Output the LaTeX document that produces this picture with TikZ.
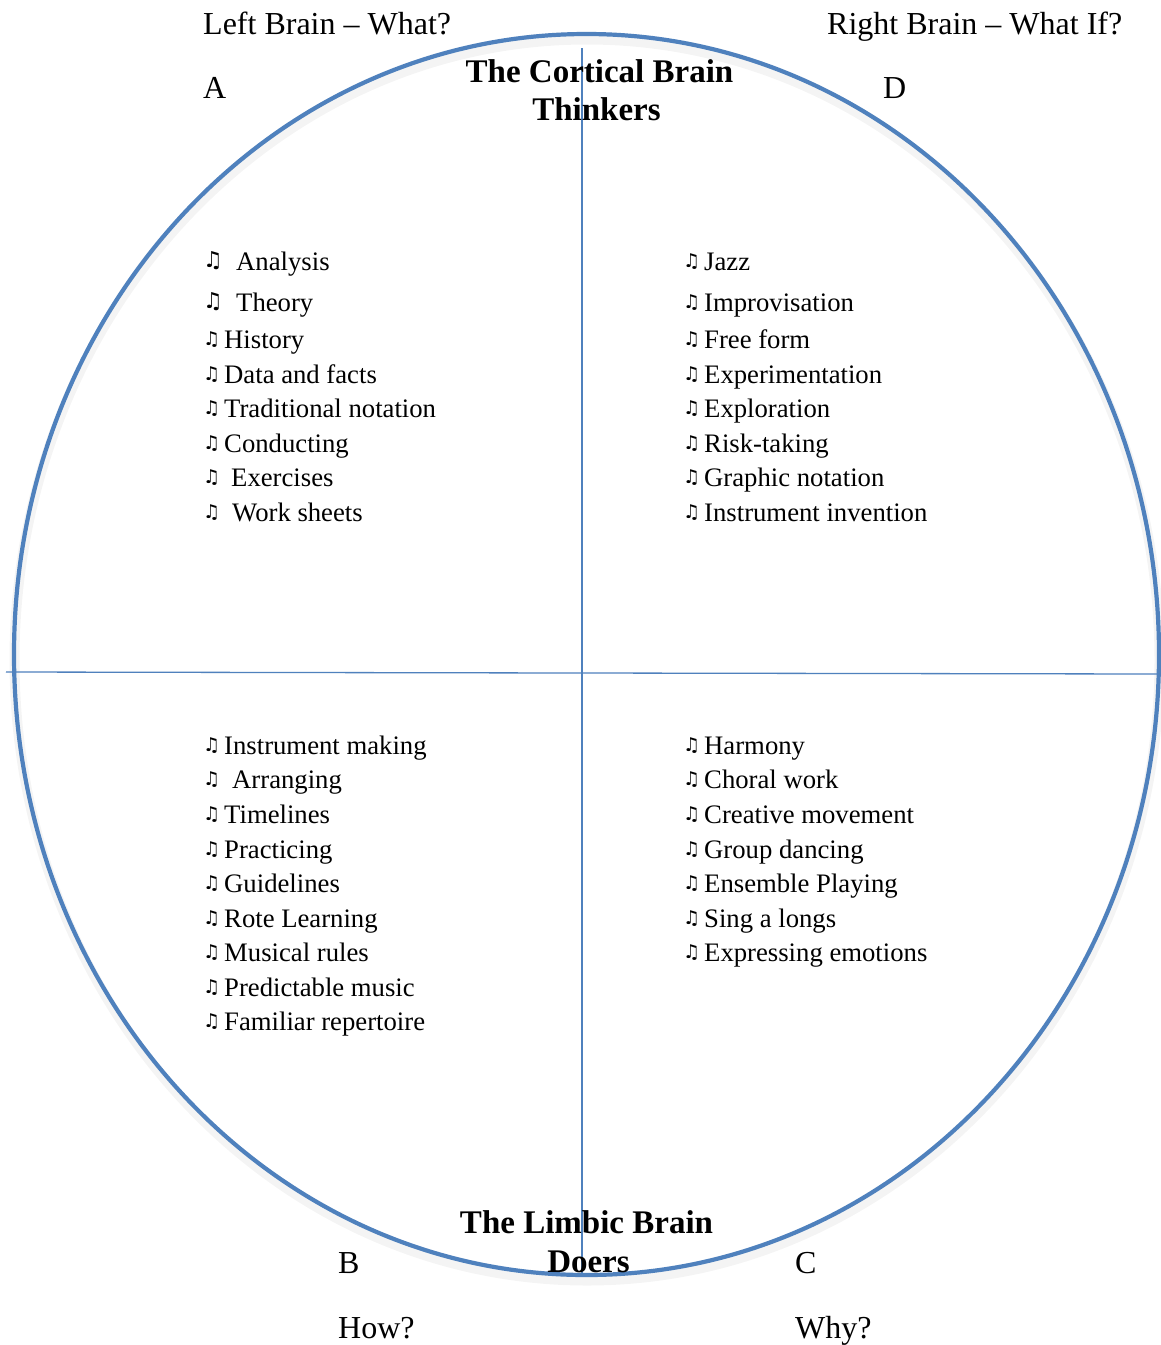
\documentclass[tikz,border=0pt]{standalone}
\usepackage{fontspec}
\setmainfont{Liberation Serif}
\newfontfamily\symf{DejaVu Sans}
\definecolor{brainblue}{RGB}{79,129,189}
\newcommand\nt{\raisebox{2.5pt}{\symf\fontsize{19}{20}\selectfont ♫}}
\newcommand\bnt{\raisebox{3pt}{\symf\bfseries\fontsize{22}{22}\selectfont ♫}}
\newcommand\itm[2][21pt]{\makebox[#1][l]{\nt}#2}
\newcommand\bitm[2][33pt]{\makebox[#1][l]{\bnt}#2}
\begin{document}
\begin{tikzpicture}[x=1pt,y=-1pt,
  item/.style={anchor=base west,inner sep=0pt,font=\fontsize{26.7}{30}\selectfont},
  lbl/.style={anchor=base west,inner sep=0pt,font=\fontsize{32}{36}\selectfont},
  ttl/.style={anchor=base,inner sep=0pt,font=\bfseries\fontsize{33}{38}\selectfont},
  axis/.style={draw=brainblue,line width=1.3pt},
  rim/.style={draw=brainblue,line width=4.2pt},
  rimshadow/.style={draw=black,opacity=0.045,line width=10pt}]
\useasboundingbox (0,0) rectangle (1161,1345);
\fill[white] (0,0) rectangle (1161,1345);
% ellipse with soft shadow
\path[rimshadow] (587,660) ellipse [x radius=572.5, y radius=620.5];
\path[rim] (586.5,654.5) ellipse [x radius=572.5, y radius=620.5];
% axes
\coordinate (vt) at (582,48);
\coordinate (vb) at (582,1275);
\coordinate (hl) at (6,672);
\coordinate (hr) at (1158,674);
\draw[axis] (vt) -- (vb);
\draw[axis] (hl) -- (hr);
% corner labels
\node[lbl] (lb) at (203,34) {Left Brain – What?};
\node[lbl] (rb) at (827,34) {Right Brain – What If?};
\node[lbl] (A) at (203,98) {A};
\node[lbl] (D) at (883,98) {D};
\node[lbl] (B) at (338,1273) {B};
\node[lbl] (C) at (795,1273) {C};
\node[lbl] (how) at (338,1338) {How?};
\node[lbl] (why) at (795,1338) {Why?};
% titles
\node[ttl] (t1) at (599.5,82) {The Cortical Brain};
\node[ttl] (t2) at (596.5,120) {Thinkers};
\node[ttl] (t3) at (586.5,1233) {The Limbic Brain};
\node[ttl] (t4) at (588.5,1272) {Doers};
% quadrant A
\node[item] (a1) at (203,270) {\bitm{Analysis}};
\node[item] (a2) at (203,311) {\bitm{Theory}};
\node[item] (a3) at (203,348) {\itm{History}};
\node[item] (a4) at (203,383) {\itm{Data and facts}};
\node[item] (a5) at (203,417) {\itm{Traditional notation}};
\node[item] (a6) at (203,452) {\itm{Conducting}};
\node[item] (a7) at (203,486) {\itm[28pt]{Exercises}};
\node[item] (a8) at (203,521) {\itm[29pt]{Work sheets}};
% quadrant D
\node[item] (d1) at (683,270) {\itm{Jazz}};
\node[item] (d2) at (683,311) {\itm{Improvisation}};
\node[item] (d3) at (683,348) {\itm{Free form}};
\node[item] (d4) at (683,383) {\itm{Experimentation}};
\node[item] (d5) at (683,417) {\itm{Exploration}};
\node[item] (d6) at (683,452) {\itm{Risk-taking}};
\node[item] (d7) at (683,486) {\itm{Graphic notation}};
\node[item] (d8) at (683,521) {\itm{Instrument invention}};
% quadrant B
\node[item] (b1) at (203,754) {\itm{Instrument making}};
\node[item] (b2) at (203,788) {\itm[29pt]{Arranging}};
\node[item] (b3) at (203,823) {\itm{Timelines}};
\node[item] (b4) at (203,858) {\itm{Practicing}};
\node[item] (b5) at (203,892) {\itm{Guidelines}};
\node[item] (b6) at (203,927) {\itm{Rote Learning}};
\node[item] (b7) at (203,961) {\itm{Musical rules}};
\node[item] (b8) at (203,996) {\itm{Predictable music}};
\node[item] (b9) at (203,1030) {\itm{Familiar repertoire}};
% quadrant C
\node[item] (c1) at (683,754) {\itm{Harmony}};
\node[item] (c2) at (683,788) {\itm{Choral work}};
\node[item] (c3) at (683,823) {\itm{Creative movement}};
\node[item] (c4) at (683,858) {\itm{Group dancing}};
\node[item] (c5) at (683,892) {\itm{Ensemble Playing}};
\node[item] (c6) at (683,927) {\itm{Sing a longs}};
\node[item] (c7) at (683,961) {\itm{Expressing emotions}};
\end{tikzpicture}
\end{document}
